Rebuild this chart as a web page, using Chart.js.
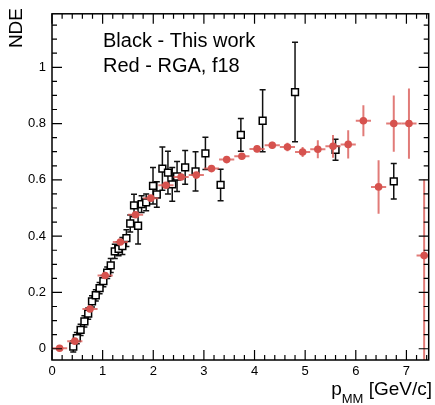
<!DOCTYPE html>
<html>
<head>
<meta charset="utf-8">
<script src="https://cdn.jsdelivr.net/npm/chart.js@4.4.1/dist/chart.umd.min.js"></script>
<style>
  html, body { margin: 0; padding: 0; background: #fff; }
  canvas { display: block; }
</style>
</head>
<body>
<canvas id="myChart" width="435" height="405"></canvas>
<script>
// red: RGA, f18 (bin centres, value, vertical error up / down)
const redX = [0.15, 0.45, 0.75, 1.05, 1.35, 1.65, 1.95, 2.25, 2.55, 2.85, 3.15, 3.45, 3.75,
              4.05, 4.35, 4.65, 4.95, 5.25, 5.55, 5.85, 6.15, 6.45, 6.75, 7.05, 7.35];
const redY = [0.002, 0.027, 0.141, 0.26, 0.379, 0.476, 0.535, 0.581, 0.61, 0.617, 0.64, 0.672, 0.684,
              0.71, 0.723, 0.717, 0.699, 0.709, 0.719, 0.726, 0.81, 0.575, 0.80, 0.80, 0.331];
const redErrUp = [0.008, 0.01, 0.01, 0.01, 0.01, 0.01, 0.01, 0.01, 0.01, 0.01, 0.01, 0.01, 0.01,
                  0.012, 0.012, 0.015, 0.018, 0.032, 0.04, 0.05, 0.055, 0.095, 0.1, 0.125, 0.27];
const redErrDown = [0.008, 0.01, 0.01, 0.01, 0.01, 0.01, 0.01, 0.01, 0.01, 0.01, 0.01, 0.01, 0.01,
                    0.012, 0.012, 0.015, 0.018, 0.032, 0.04, 0.05, 0.055, 0.095, 0.1, 0.125, 0.4];
const redBinHalf = 0.15;

// black: this work
const blackX = [0.42, 0.49, 0.565, 0.64, 0.715, 0.79, 0.865, 0.94, 1.015, 1.09, 1.16, 1.24, 1.315,
                1.39, 1.47, 1.545, 1.62, 1.70, 1.77, 1.86, 1.995, 2.07, 2.18, 2.29, 2.375, 2.47,
                2.63, 2.835, 3.03, 3.33, 3.73, 4.16, 4.80, 5.60, 6.75];
const blackY = [0.008, 0.038, 0.067, 0.097, 0.125, 0.168, 0.19, 0.215, 0.24, 0.27, 0.296, 0.346, 0.355,
                0.365, 0.393, 0.445, 0.509, 0.437, 0.514, 0.52, 0.579, 0.548, 0.64, 0.626, 0.584, 0.612,
                0.644, 0.63, 0.694, 0.582, 0.76, 0.81, 0.912, 0.707, 0.595];
const blackErr = [0.02, 0.02, 0.02, 0.02, 0.02, 0.02, 0.02, 0.02, 0.02, 0.02, 0.025, 0.025, 0.025,
                  0.03, 0.03, 0.03, 0.04, 0.065, 0.03, 0.03, 0.065, 0.045, 0.077, 0.076, 0.06, 0.053,
                  0.06, 0.07, 0.057, 0.056, 0.058, 0.11, 0.177, 0.037, 0.063];

const xTicks = [0, 1, 2, 3, 4, 5, 6, 7];
const xTickLabels = ['0', '1', '2', '3', '4', '5', '6', '7'];
const yTicks = [0, 0.2, 0.4, 0.6, 0.8, 1];
const yTickLabels = ['0', '0.2', '0.4', '0.6', '0.8', '1'];

const FONT = "'Liberation Sans', Arial, sans-serif";
Chart.defaults.font.family = FONT;

// error bars drawn just before each dataset's markers
const errorBars = {
  id: 'errorBars',
  beforeDatasetDraw(chart, args) {
    const ds = chart.data.datasets[args.index];
    const xs = chart.scales.x, ys = chart.scales.y;
    const a = chart.chartArea;
    const ctx = chart.ctx;
    ctx.save();
    ctx.beginPath();
    ctx.rect(a.left, a.top, a.right - a.left, a.bottom - a.top);
    ctx.clip();
    ctx.strokeStyle = ds.errColor;
    ctx.lineWidth = ds.errWidth;
    ds.data.forEach(p => {
      const px = xs.getPixelForValue(p.x), py = ys.getPixelForValue(p.y);
      const top = ys.getPixelForValue(p.y + p.eUp), bot = ys.getPixelForValue(p.y - p.eDown);
      ctx.beginPath();
      ctx.moveTo(px, top); ctx.lineTo(px, bot);
      if (p.ex) {
        ctx.moveTo(xs.getPixelForValue(p.x - p.ex), py);
        ctx.lineTo(xs.getPixelForValue(p.x + p.ex), py);
      }
      if (ds.errCap) {
        ctx.moveTo(px - ds.errCap, top); ctx.lineTo(px + ds.errCap, top);
        ctx.moveTo(px - ds.errCap, bot); ctx.lineTo(px + ds.errCap, bot);
      }
      ctx.stroke();
    });
    ctx.restore();
  }
};

// frame with inward ticks on all sides, plus texts
const frame = {
  id: 'frame',
  afterDraw(chart) {
    const ctx = chart.ctx, a = chart.chartArea;
    const xs = chart.scales.x, ys = chart.scales.y;
    ctx.save();
    ctx.strokeStyle = '#000';
    ctx.lineWidth = 1.5;
    ctx.strokeRect(a.left, a.top, a.right - a.left, a.bottom - a.top);
    ctx.lineWidth = 1.2;
    ctx.beginPath();
    for (let i = Math.ceil(xs.min / 0.2 - 1e-9); i <= Math.floor(xs.max / 0.2 + 1e-9); i++) {
      const px = xs.getPixelForValue(i * 0.2);
      const len = i % 5 === 0 ? 10 : 5;
      ctx.moveTo(px, a.bottom); ctx.lineTo(px, a.bottom - len);
      ctx.moveTo(px, a.top); ctx.lineTo(px, a.top + len);
    }
    for (let i = Math.ceil(ys.min / 0.05 - 1e-9); i <= Math.floor(ys.max / 0.05 + 1e-9); i++) {
      const py = ys.getPixelForValue(i * 0.05);
      const len = i % 4 === 0 ? 10 : 5;
      ctx.moveTo(a.left, py); ctx.lineTo(a.left + len, py);
      ctx.moveTo(a.right, py); ctx.lineTo(a.right - len, py);
    }
    ctx.stroke();

    ctx.fillStyle = '#000';
    // legend text
    ctx.font = '20px ' + FONT;
    ctx.textAlign = 'left';
    ctx.textBaseline = 'alphabetic';
    ctx.fillText('Black - This work', 103, 47);
    ctx.fillText('Red - RGA, f18', 103, 72);

    // y title
    ctx.save();
    ctx.translate(17, 8);
    ctx.rotate(-Math.PI / 2);
    ctx.font = '19px ' + FONT;
    ctx.textAlign = 'right';
    ctx.textBaseline = 'middle';
    ctx.fillText('NDE', 0, 0);
    ctx.restore();

    // x title: p_MM [GeV/c]
    ctx.font = '19px ' + FONT;
    const wP = ctx.measureText('p').width;
    const wRest = ctx.measureText(' [GeV/c]').width;
    ctx.font = '13px ' + FONT;
    const wSub = ctx.measureText('MM').width;
    let x0 = 432 - wRest - wSub - wP;
    ctx.font = '19px ' + FONT;
    ctx.fillText('p', x0, 395);
    ctx.font = '13px ' + FONT;
    ctx.fillText('MM', x0 + wP, 403);
    ctx.font = '19px ' + FONT;
    ctx.fillText(' [GeV/c]', x0 + wP + wSub, 395);
    ctx.restore();
  }
};

const redData = redX.map((x, i) => ({ x: x, y: redY[i], eUp: redErrUp[i], eDown: redErrDown[i], ex: redBinHalf }));
const blackData = blackX.map((x, i) => ({ x: x, y: blackY[i], eUp: blackErr[i], eDown: blackErr[i] }));

var chartArea = document.getElementById('myChart').getContext('2d');
var myChart = new Chart(chartArea, {
  type: 'scatter',
  data: {
    datasets: [
      {
        label: 'Red - RGA, f18',
        data: redData,
        order: 0,
        pointStyle: 'circle',
        pointRadius: 3.8,
        pointBackgroundColor: 'rgb(214, 82, 78)',
        pointBorderWidth: 0,
        errColor: 'rgba(218, 90, 86, 0.8)',
        errWidth: 2
      },
      {
        label: 'Black - This work',
        data: blackData,
        order: 1,
        pointStyle: 'rect',
        pointRadius: 4.8,
        pointBackgroundColor: '#fff',
        pointBorderColor: '#000',
        pointBorderWidth: 1.5,
        errColor: '#111',
        errWidth: 1.5,
        errCap: 3
      }
    ]
  },
  options: {
    responsive: false,
    animation: false,
    events: [],
    layout: { padding: { top: 8, right: 5, left: 0, bottom: 0 } },
    plugins: { legend: { display: false }, tooltip: { enabled: false } },
    scales: {
      x: {
        type: 'linear', min: 0, max: 7.44,
        grid: { display: false, drawTicks: false },
        border: { display: false },
        afterBuildTicks: s => { s.ticks = xTicks.map(v => ({ value: v })); },
        afterFit: s => { s.height = 45; },
        ticks: { color: '#000', font: { size: 13 }, padding: 4, maxRotation: 0, autoSkip: false,
                 callback: (v, i) => xTickLabels[i] }
      },
      y: {
        type: 'linear', min: -0.04, max: 1.19,
        grid: { display: false, drawTicks: false },
        border: { display: false },
        afterBuildTicks: s => { s.ticks = yTicks.map(v => ({ value: v })); },
        afterFit: s => { s.width = 52; },
        ticks: { color: '#000', font: { size: 13 }, padding: 6, autoSkip: false,
                 callback: (v, i) => yTickLabels[i] }
      }
    }
  },
  plugins: [errorBars, frame]
});
</script>
</body>
</html>
